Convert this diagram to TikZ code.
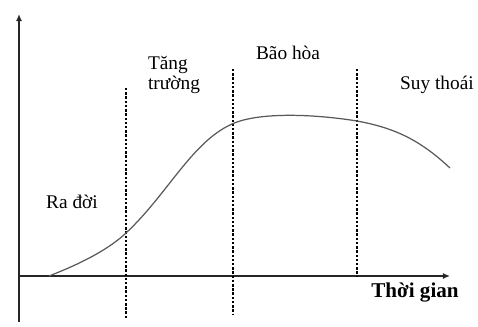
\documentclass[tikz,border=0pt]{standalone}
\usepackage{fontspec}
\setmainfont{Liberation Serif}
\usetikzlibrary{arrows.meta}
\tikzset{
    axisline/.style={draw=black!85, line width=0.85pt, -{Latex[length=4pt, width=3.5pt]}},
    guide/.style={draw=black, line width=0.75pt, dash pattern=on 1.4pt off 1pt},
    lifecurve/.style={draw=black!65, line width=0.7pt},
    phaselabel/.style={align=left, font=\fontsize{11}{11}\selectfont, inner sep=0pt}
}

\begin{document}
\begin{tikzpicture}[x=0.02cm, y=-0.02cm]
            \useasboundingbox (0,0) rectangle (478,326);
            % axes
            \coordinate (o) at (19,276);
            \coordinate (ybot) at (19,322); \coordinate (ytop) at (19,14);
            \coordinate (xend) at (450,276);
            \draw[axisline] (ybot) -- (ytop);
            \draw[axisline] (o) -- (xend);
            \node[font=\fontsize{12}{12}\selectfont\bfseries, inner sep=0pt] (time) at (415,292) {Thời gian};

            % phase boundaries
            \coordinate (g1t) at (126,88);  \coordinate (g1b) at (126,318);
            \coordinate (g2t) at (233,69);  \coordinate (g2b) at (233,314);
            \coordinate (g3t) at (357,69);  \coordinate (g3b) at (357,276);
            \draw[guide] (g1t) -- (g1b);
            \draw[guide] (g2t) -- (g2b);
            \draw[guide] (g3t) -- (g3b);

            % life cycle curve
            \draw[lifecurve] (49,276) .. controls (85,262) and (110,248) .. (126,233)
                .. controls (170,192) and (195,135) .. (240,121)
                .. controls (270,112) and (320,115) .. (357,121)
                .. controls (395,128) and (420,140) .. (450,168);

            % phase names
            \node[phaselabel] (birth) at (72,202) {Ra đời};
            \node[phaselabel] (growth) at (174,75) {Tăng\\trường};
            \node[phaselabel] (mature) at (288,53) {Bão hòa};
            \node[phaselabel] (decline) at (437,85) {Suy thoái};
\end{tikzpicture}
\end{document}
